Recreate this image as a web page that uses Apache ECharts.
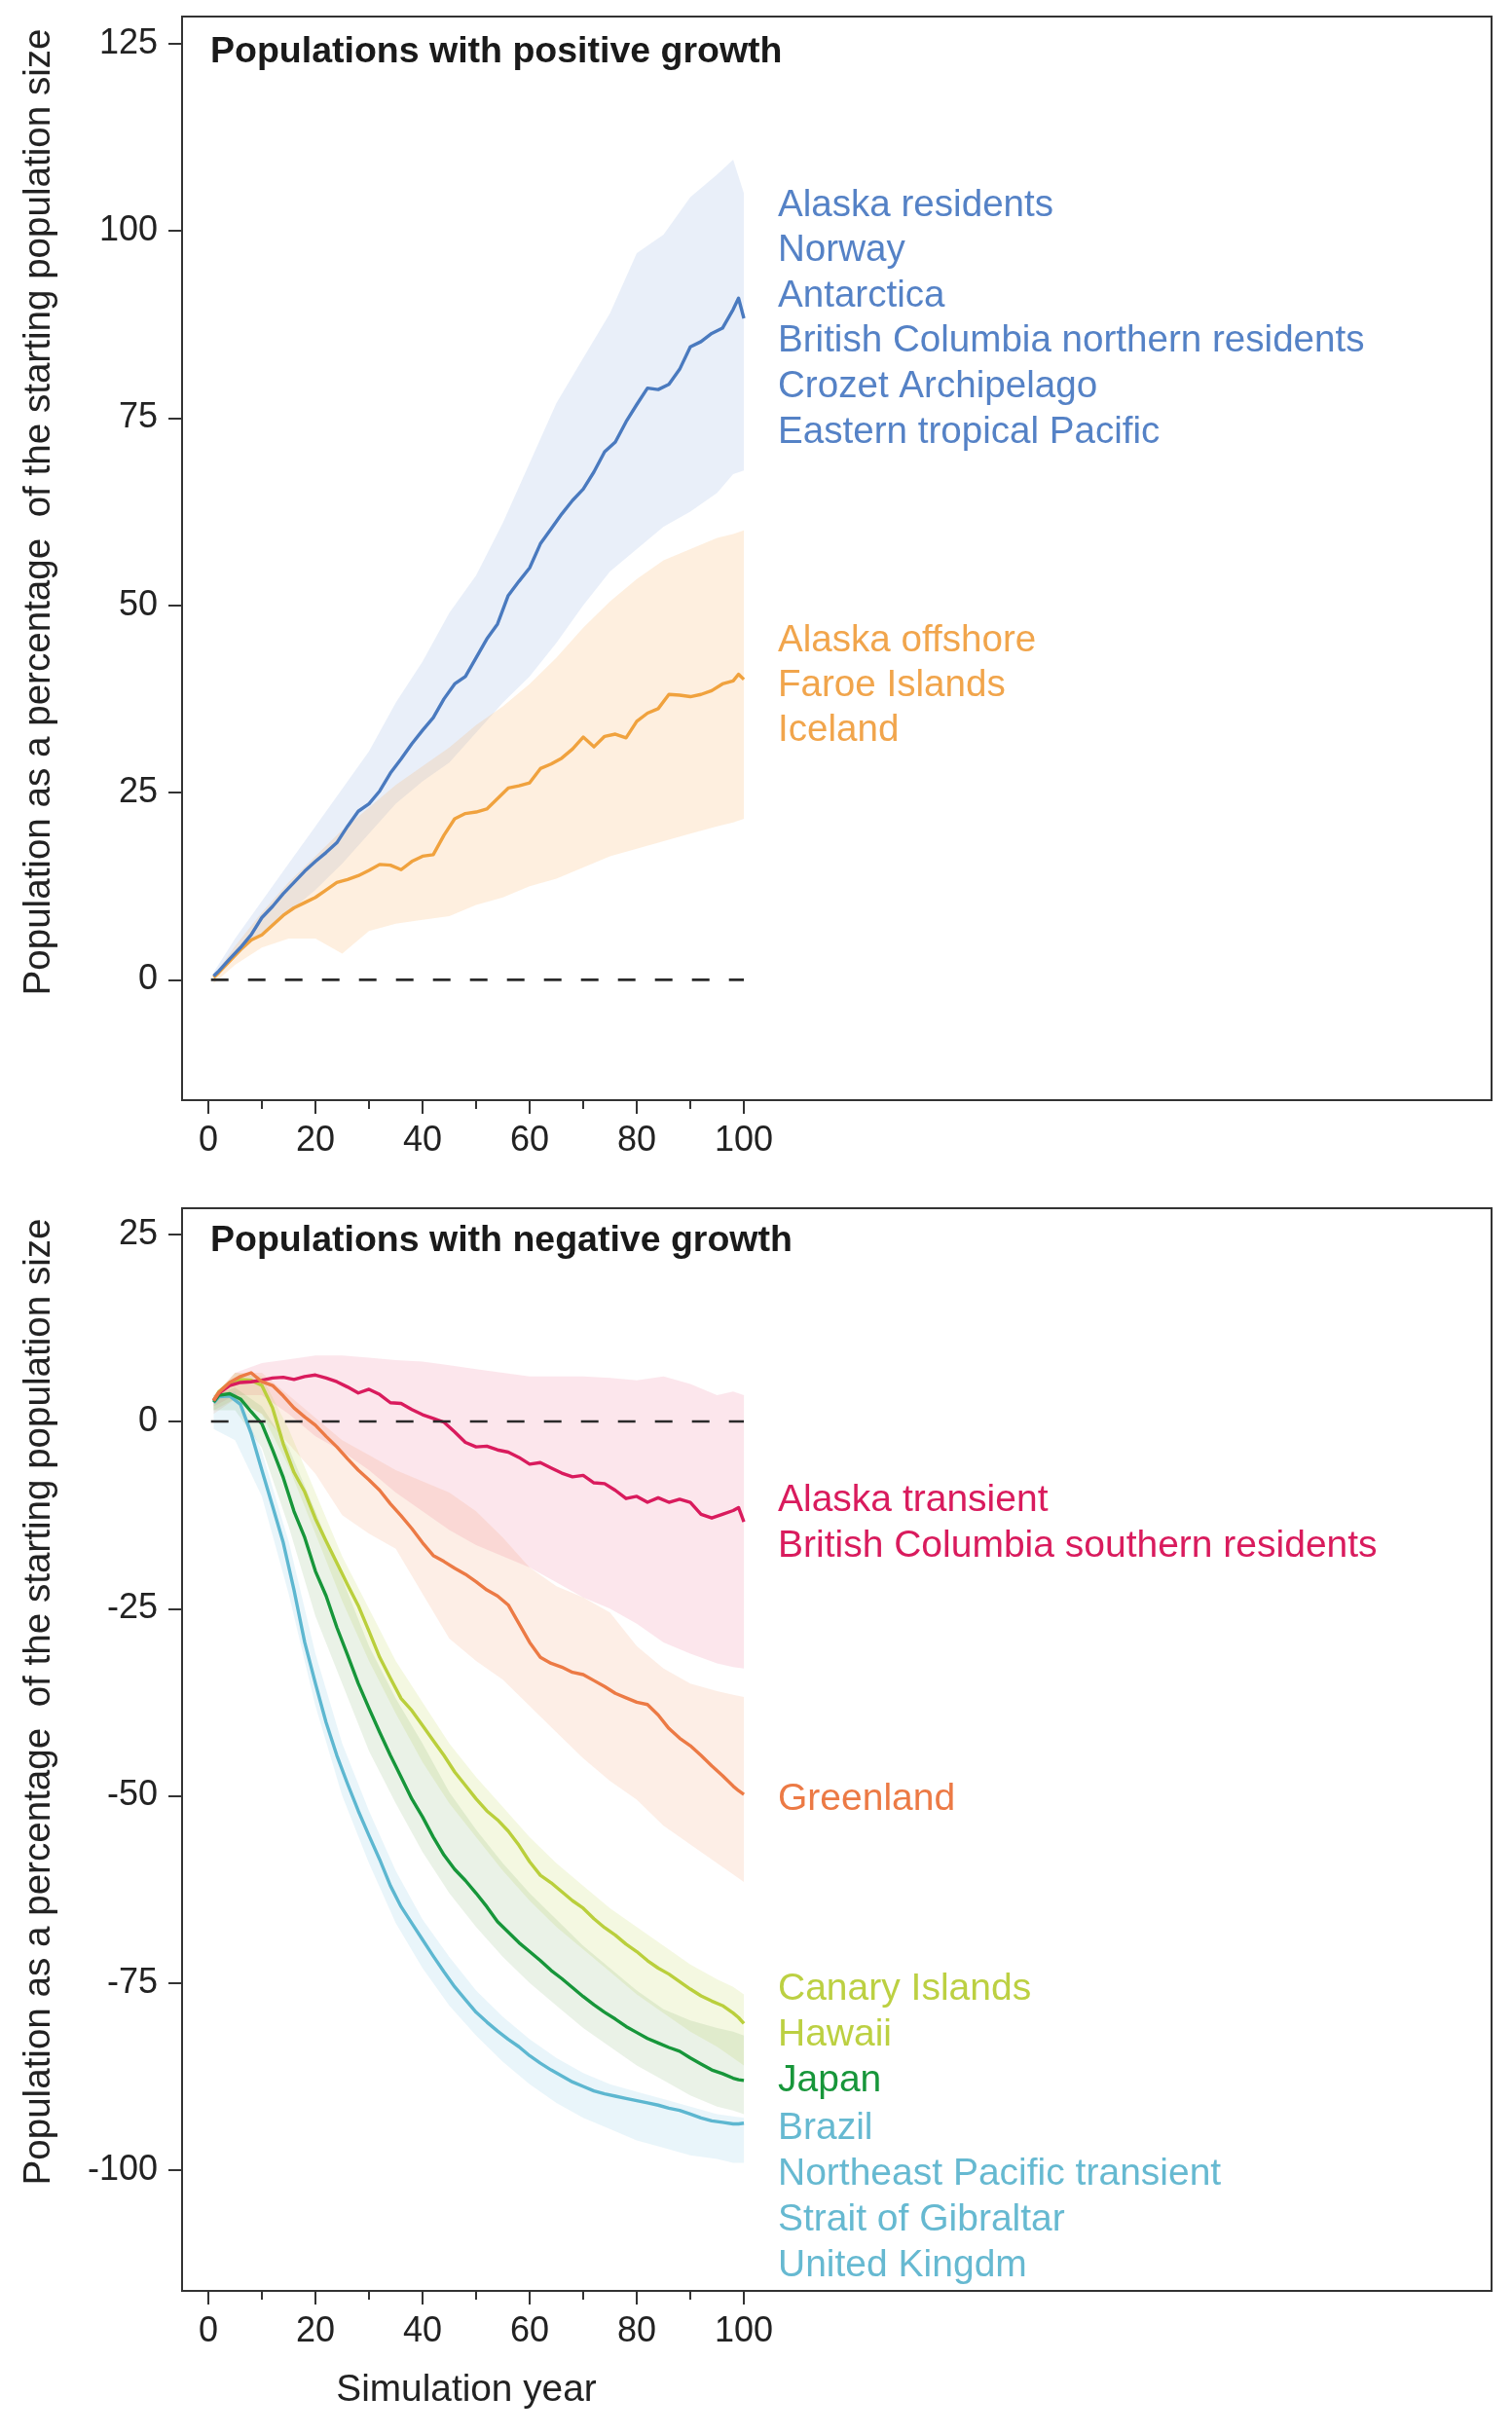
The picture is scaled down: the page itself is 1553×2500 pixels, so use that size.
<!DOCTYPE html>
<html><head><meta charset="utf-8">
<script src="https://cdn.jsdelivr.net/npm/echarts@6/dist/echarts.min.js"></script>
<style>html,body{margin:0;padding:0;background:#fff}#c{width:1553px;height:2500px}</style>
</head><body><div id="c"></div>
<script>
// ---------- DATA ----------
const lineYears = [1,2,4,6,8,10,12,14,16,18,20,22,24,26,28,30,32,34,36,38,40,42,44,46,48,50,52,54,56,58,60,62,64,66,68,70,72,74,76,78,80,82,84,86,88,90,92,94,96,98,99,100];
const bandYears = [1,5,10,15,20,25,30,35,40,45,50,55,60,65,70,75,80,85,90,95,98,100];

// Populations with positive growth
const positiveBlueMean = [0.5,1.2,2.8,4.3,6.0,8.3,9.8,11.5,13.0,14.5,15.8,17.0,18.3,20.5,22.5,23.5,25.2,27.6,29.5,31.5,33.3,35.0,37.5,39.5,40.5,43.0,45.5,47.5,51.3,53.2,55.0,58.2,60.2,62.2,64.0,65.5,67.8,70.5,71.8,74.5,76.8,79.0,78.8,79.5,81.5,84.5,85.2,86.3,87.0,89.5,91.0,88.3];
const positiveBlueUpper = [1,5.5,10.5,15.5,20.5,25.5,30.5,37,42.5,49,54,61,69,77,83,89,97,99.5,104.5,107.5,109.5,105];
const positiveBlueLower = [0.2,3,6.3,9,12,15.5,19.5,23.5,26.5,29,33,37,40.5,45,50,54.5,57.5,60.5,62.5,65,67.5,68];
const positiveOrangeMean = [0.3,1.0,2.5,4.0,5.3,6.0,7.3,8.6,9.6,10.3,11.0,12.0,13.0,13.4,13.9,14.6,15.4,15.3,14.7,15.8,16.5,16.7,19.3,21.5,22.2,22.4,22.8,24.2,25.6,25.9,26.3,28.2,28.8,29.6,30.8,32.4,31.1,32.5,32.8,32.3,34.5,35.6,36.2,38.1,38.0,37.8,38.1,38.6,39.5,39.9,40.8,40.1];
const positiveOrangeUpper = [0.5,4.5,9,13,16.5,20,23,26,28.5,31,34,36.5,39.5,43,47,50.5,53.5,56,57.5,59,59.5,60];
const positiveOrangeLower = [-0.5,2,4.3,5.5,5.5,3.5,6.5,7.5,8,8.5,10,11,12.5,13.5,15,16.5,17.5,18.5,19.5,20.5,21,21.5];

// Populations with negative growth
const crimsonMean = [2.8,3.8,4.8,5.2,5.3,5.5,5.8,5.9,5.6,6.0,6.2,5.8,5.3,4.6,3.8,4.3,3.6,2.5,2.4,1.6,0.9,0.4,-0.1,-1.4,-2.8,-3.4,-3.3,-3.8,-4.1,-4.8,-5.7,-5.5,-6.2,-6.9,-7.4,-7.2,-8.2,-8.3,-9.2,-10.3,-10.0,-10.8,-10.2,-10.8,-10.4,-10.8,-12.4,-12.9,-12.4,-11.9,-11.5,-13.4];
const crimsonUpper = [3.5,6.5,7.8,8.3,8.8,8.8,8.5,8.2,8,7.5,7,6.5,6,6,6,5.8,5.5,6,5,3.5,4,3.5];
const crimsonLower = [2,3.5,3.5,1,-2,-4,-6.5,-9.5,-12,-14.5,-16.5,-18,-19.5,-21.5,-23.5,-25,-27,-29.5,-31,-32.3,-32.8,-33];
const greenlandMean = [2.8,3.9,5.2,6.0,6.5,5.3,4.8,3.4,1.8,0.6,-0.5,-2.0,-3.4,-5.0,-6.5,-7.8,-9.2,-11.0,-12.6,-14.3,-16.2,-17.9,-18.7,-19.6,-20.4,-21.4,-22.5,-23.3,-24.5,-27.0,-29.5,-31.5,-32.3,-32.8,-33.5,-33.8,-34.6,-35.4,-36.3,-36.9,-37.5,-37.8,-39.2,-41.0,-42.3,-43.3,-44.6,-46.0,-47.3,-48.7,-49.3,-49.8];
const greenlandUpper = [3.2,6.5,6.5,3.5,0.5,-2.5,-4.5,-6.5,-8,-9.5,-12,-15.5,-19.5,-22,-23.5,-25.5,-30,-33,-35,-36,-36.5,-36.8];
const greenlandLower = [1,3,1,-3,-7,-12.5,-15,-17,-23,-29,-32,-34.5,-38,-41.5,-45,-48,-50.5,-54,-56.5,-59,-60.5,-61.5];
const canaryMean = [2.8,4.0,5.2,5.6,5.5,4.8,1.8,-3.0,-6.8,-9.4,-13.0,-16.0,-18.9,-21.8,-24.6,-28.0,-31.5,-34.3,-37.0,-38.6,-40.6,-42.6,-44.6,-46.8,-48.6,-50.4,-52.0,-53.2,-54.7,-56.6,-58.8,-60.6,-61.6,-62.8,-64.0,-65.0,-66.4,-67.6,-68.6,-69.8,-70.8,-72.0,-73.0,-73.8,-74.8,-75.8,-76.7,-77.4,-78.0,-79.0,-79.6,-80.4];
const canaryUpper = [3.2,6.5,6,-1,-9.5,-18,-25,-32,-37.5,-43,-47.5,-51.5,-55.5,-59,-62,-65,-67.5,-70,-72.5,-74.5,-75.5,-76.5];
const canaryLower = [1.5,3,1,-6,-15,-24,-32,-39,-45.5,-51,-55.5,-60,-64,-67.5,-70.5,-73.5,-76.5,-79,-81.5,-83.5,-85,-86];
const japanMean = [2.6,3.5,3.7,3.0,1.3,-0.3,-3.8,-7.5,-12.0,-15.5,-20.0,-23.3,-27.5,-31.2,-35.0,-38.3,-41.5,-44.6,-47.5,-50.4,-52.8,-55.5,-57.9,-59.8,-61.3,-63.0,-64.8,-66.8,-68.2,-69.6,-70.8,-72.0,-73.3,-74.4,-75.6,-76.8,-77.9,-78.9,-79.8,-80.8,-81.6,-82.4,-83.0,-83.6,-84.1,-85.0,-85.8,-86.6,-87.1,-87.7,-87.9,-88.0];
const japanUpper = [3.5,4.5,2,-3.5,-12,-21,-30,-37,-43,-49.5,-54.5,-59,-63,-66.5,-70,-73,-76,-78.5,-80,-81,-81.5,-82];
const japanLower = [1.5,1.5,-3.5,-14,-26,-35,-44,-51,-57.5,-63,-67.5,-71.5,-75,-78,-81,-83.5,-86,-88,-90,-91.5,-92,-92.5];
const brazilMean = [2.5,3.3,3.4,2.3,-1.6,-6.5,-11.3,-16.2,-22.5,-29.5,-35.0,-40.2,-44.6,-48.4,-52.0,-55.3,-58.5,-62.0,-64.8,-67.0,-69.2,-71.4,-73.5,-75.5,-77.2,-78.9,-80.2,-81.4,-82.5,-83.5,-84.7,-85.7,-86.6,-87.4,-88.2,-88.8,-89.4,-89.8,-90.1,-90.4,-90.7,-91.0,-91.3,-91.7,-92.0,-92.5,-93.0,-93.4,-93.6,-93.8,-93.8,-93.7];
const brazilUpper = [3.5,4,-4,-16,-31,-43,-52,-60,-66.5,-71.5,-76,-79.5,-82.5,-85,-87,-88.5,-89.5,-90.5,-91.5,-92.5,-92.8,-93];
const brazilLower = [-1,-2.5,-10,-23,-38,-50,-59,-67,-73,-78,-82,-85.5,-88.5,-91,-93,-94.5,-96,-97,-98,-98.5,-99,-99];

// Tick values and labels
const xMajorTicks = [0,20,40,60,80,100];
const xMinorTicks = [10,30,50,70,90];
const yTicksTop = [0,25,50,75,100,125];
const yTicksBottom = [-100,-75,-50,-25,0,25];

const topBlueLabels = ['Alaska residents','Norway','Antarctica','British Columbia northern residents','Crozet Archipelago','Eastern tropical Pacific'];
const topOrangeLabels = ['Alaska offshore','Faroe Islands','Iceland'];
const bottomCrimsonLabels = ['Alaska transient','British Columbia southern residents'];
const bottomGreenlandLabels = ['Greenland'];
const bottomCanaryLabels = ['Canary Islands','Hawaii'];
const bottomJapanLabels = ['Japan'];
const bottomBrazilLabels = ['Brazil','Northeast Pacific transient','Strait of Gibraltar','United Kingdm'];

const titleTop = 'Populations with positive growth';
const titleBottom = 'Populations with negative growth';
const yName = 'Population as a percentage  of the starting population size';
const xName = 'Simulation year';

// ---------- CHART ----------
const FONT = '"Liberation Sans", Arial, Helvetica, sans-serif';
const zip = (xs, ys) => xs.map((x, i) => [x, ys[i]]);

function band(years, lo, hi, color, idx) {
  return {
    type: 'custom', xAxisIndex: idx, yAxisIndex: idx, silent: true, z: 1,
    data: [[years[0], lo[0]]],
    renderItem: function (params, api) {
      const pts = [];
      for (let i = 0; i < years.length; i++) pts.push(api.coord([years[i], hi[i]]));
      for (let i = years.length - 1; i >= 0; i--) pts.push(api.coord([years[i], lo[i]]));
      return { type: 'polygon', shape: { points: pts }, style: { fill: color } };
    }
  };
}
function meanLine(ys, color, idx) {
  return {
    type: 'line', xAxisIndex: idx, yAxisIndex: idx, data: zip(lineYears, ys),
    showSymbol: false, symbol: 'none', silent: true, z: 3,
    lineStyle: { color: color, width: 3.4, join: 'round' }
  };
}
function zeroLine(idx) {
  return {
    type: 'line', xAxisIndex: idx, yAxisIndex: idx, data: [[0.5, 0], [100, 0]],
    showSymbol: false, symbol: 'none', silent: true, z: 4,
    lineStyle: { color: '#2a2a2a', width: 2.6, type: [18, 20] }
  };
}
function xMajor(gi) {
  return {
    type: 'value', gridIndex: gi, min: -4.9, max: 239.6, position: 'bottom',
    splitLine: { show: false },
    axisLine: { show: true, onZero: false, lineStyle: { color: '#333', width: 2 } },
    axisTick: { show: true, customValues: xMajorTicks, length: 14, lineStyle: { color: '#333', width: 2 } },
    axisLabel: { show: true, customValues: xMajorTicks, margin: 24, fontSize: 36, fontFamily: FONT, color: '#222' }
  };
}
function xMinor(gi) {
  return {
    type: 'value', gridIndex: gi, min: -4.9, max: 239.6, position: 'bottom',
    splitLine: { show: false }, axisLine: { show: false, onZero: false },
    axisTick: { show: true, customValues: xMinorTicks, length: 9, lineStyle: { color: '#333', width: 2 } },
    axisLabel: { show: false }
  };
}
function yAx(gi, min, max, ticks) {
  return {
    type: 'value', gridIndex: gi, min: min, max: max, position: 'left',
    splitLine: { show: false },
    axisLine: { show: true, onZero: false, lineStyle: { color: '#333', width: 2 } },
    axisTick: { show: true, customValues: ticks, length: 14, lineStyle: { color: '#333', width: 2 } },
    axisLabel: { show: true, customValues: ticks, margin: 25, fontSize: 36, fontFamily: FONT, color: '#222' }
  };
}
function labelBlock(texts, x, y0, step, color, size) {
  return texts.map((t, i) => ({
    type: 'text', x: x, y: y0 + i * step, silent: true,
    style: { text: t, fill: color, font: size + 'px ' + FONT, align: 'left', verticalAlign: 'middle' }
  }));
}

const C = {
  blue: '#4a7abf', blueText: '#5582c6', blueBand: 'rgba(88,132,205,0.13)',
  orange: '#f0a23e', orangeText: '#f1a54c', orangeBand: 'rgba(247,165,80,0.18)',
  crimson: '#d91b5d', crimsonBand: 'rgba(236,80,120,0.14)',
  green1: '#ec7a45', greenlandBand: 'rgba(244,140,90,0.15)',
  canary: '#bacf3c', canaryText: '#bcd042', canaryBand: 'rgba(190,215,80,0.17)',
  japan: '#17963a', japanBand: 'rgba(80,150,60,0.12)',
  brazil: '#5db7d0', brazilText: '#66b9d1', brazilBand: 'rgba(110,190,220,0.15)'
};

const option = {
  animation: false,
  backgroundColor: '#fff',
  grid: [
    { left: 187, top: 17, width: 1345, height: 1113, show: true, borderColor: '#333', borderWidth: 2, backgroundColor: 'transparent' },
    { left: 187, top: 1241, width: 1345, height: 1112, show: true, borderColor: '#333', borderWidth: 2, backgroundColor: 'transparent' }
  ],
  xAxis: [xMajor(0), xMajor(1), xMinor(0), xMinor(1)],
  yAxis: [yAx(0, -16.07, 128.6, yTicksTop), yAx(1, -116.1, 28.47, yTicksBottom)],
  series: [
    band(bandYears, positiveBlueLower, positiveBlueUpper, C.blueBand, 0),
    band(bandYears, positiveOrangeLower, positiveOrangeUpper, C.orangeBand, 0),
    zeroLine(0),
    meanLine(positiveOrangeMean, C.orange, 0),
    meanLine(positiveBlueMean, C.blue, 0),

    band(bandYears, crimsonLower, crimsonUpper, C.crimsonBand, 1),
    band(bandYears, greenlandLower, greenlandUpper, C.greenlandBand, 1),
    band(bandYears, canaryLower, canaryUpper, C.canaryBand, 1),
    band(bandYears, japanLower, japanUpper, C.japanBand, 1),
    band(bandYears, brazilLower, brazilUpper, C.brazilBand, 1),
    zeroLine(1),
    meanLine(brazilMean, C.brazil, 1),
    meanLine(japanMean, C.japan, 1),
    meanLine(canaryMean, C.canary, 1),
    meanLine(crimsonMean, C.crimson, 1),
    meanLine(greenlandMean, C.green1, 1)
  ],
  graphic: [].concat(
    [
      { type: 'text', x: 216, y: 54, silent: true, style: { text: titleTop, fill: '#1a1a1a', font: 'bold 37.5px ' + FONT, align: 'left', verticalAlign: 'middle' } },
      { type: 'text', x: 216, y: 1275, silent: true, style: { text: titleBottom, fill: '#1a1a1a', font: 'bold 37.5px ' + FONT, align: 'left', verticalAlign: 'middle' } },
      { type: 'text', x: 40, y: 526, rotation: Math.PI / 2, silent: true, style: { text: yName, fill: '#222', font: '38.6px ' + FONT, align: 'center', verticalAlign: 'middle' } },
      { type: 'text', x: 40, y: 1748, rotation: Math.PI / 2, silent: true, style: { text: yName, fill: '#222', font: '38.6px ' + FONT, align: 'center', verticalAlign: 'middle' } },
      { type: 'text', x: 479, y: 2455, silent: true, style: { text: xName, fill: '#222', font: '38.8px ' + FONT, align: 'center', verticalAlign: 'middle' } }
    ],
    labelBlock(topBlueLabels, 799, 211, 46.6, C.blueText, 38.6),
    labelBlock(topOrangeLabels, 799, 658.5, 46, C.orangeText, 38.6),
    labelBlock(bottomCrimsonLabels, 799, 1541, 47, C.crimson, 39),
    labelBlock(bottomGreenlandLabels, 799, 1848, 47, C.green1, 39),
    labelBlock(bottomCanaryLabels, 799, 2043, 47, C.canaryText, 39),
    labelBlock(bottomJapanLabels, 799, 2137, 47, C.japan, 39),
    labelBlock(bottomBrazilLabels, 799, 2186, 47, C.brazilText, 39)
  )
};

const chart = echarts.init(document.getElementById('c'), null, { renderer: 'canvas', width: 1553, height: 2500 });
chart.setOption(option);
</script>
</body></html>
